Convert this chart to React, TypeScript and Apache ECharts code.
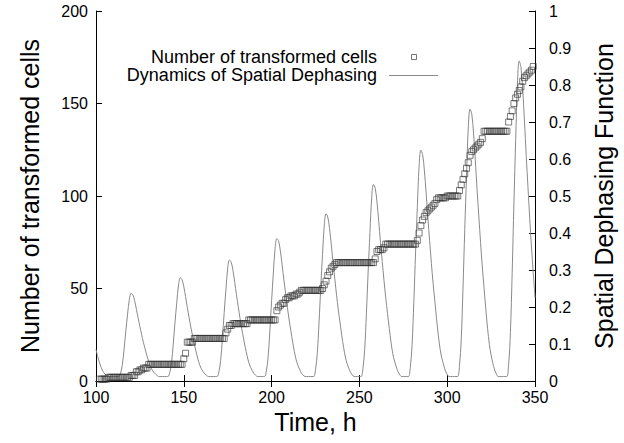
import React, { useEffect, useRef } from "react";
import * as echarts from "echarts";

const FONT = "Liberation Sans, Arial, Helvetica, sans-serif";

// Time axis (hours)
const timeTicks = [100, 150, 200, 250, 300, 350];
const cellTicks = [0, 50, 100, 150, 200];

// Spatial dephasing function, sampled every hour from t = 100 h to t = 350 h
const dephasingStart = 100;
const dephasing = [
  0.085, 0.066, 0.049, 0.036, 0.026, 0.019, 0.015, 0.013, 0.012, 0.012,
  0.012, 0.012, 0.012, 0.012, 0.021, 0.044, 0.086, 0.136, 0.181, 0.221,
  0.237, 0.233, 0.217, 0.194, 0.170, 0.147, 0.125, 0.104, 0.086, 0.068,
  0.053, 0.039, 0.030, 0.023, 0.018, 0.014, 0.012, 0.012, 0.012, 0.012,
  0.012, 0.012, 0.023, 0.049, 0.100, 0.159, 0.212, 0.260, 0.279, 0.274,
  0.255, 0.228, 0.199, 0.172, 0.146, 0.122, 0.100, 0.079, 0.060, 0.044,
  0.033, 0.025, 0.019, 0.015, 0.012, 0.012, 0.012, 0.012, 0.012, 0.012,
  0.025, 0.056, 0.116, 0.185, 0.248, 0.305, 0.327, 0.321, 0.299, 0.267,
  0.233, 0.201, 0.170, 0.141, 0.116, 0.091, 0.069, 0.050, 0.037, 0.028,
  0.020, 0.015, 0.012, 0.012, 0.012, 0.012, 0.012, 0.027, 0.064, 0.135,
  0.217, 0.292, 0.359, 0.385, 0.378, 0.351, 0.314, 0.273, 0.236, 0.199,
  0.165, 0.135, 0.105, 0.079, 0.057, 0.042, 0.031, 0.021, 0.016, 0.012,
  0.012, 0.012, 0.012, 0.012, 0.012, 0.030, 0.074, 0.157, 0.254, 0.342,
  0.421, 0.452, 0.443, 0.412, 0.368, 0.320, 0.276, 0.232, 0.192, 0.157,
  0.122, 0.091, 0.065, 0.047, 0.034, 0.023, 0.016, 0.012, 0.012, 0.012,
  0.012, 0.012, 0.033, 0.085, 0.183, 0.297, 0.401, 0.495, 0.531, 0.521,
  0.484, 0.432, 0.375, 0.323, 0.272, 0.225, 0.183, 0.142, 0.105, 0.074,
  0.054, 0.038, 0.025, 0.017, 0.012, 0.012, 0.012, 0.012, 0.012, 0.037,
  0.098, 0.214, 0.349, 0.471, 0.581, 0.624, 0.612, 0.569, 0.508, 0.440,
  0.379, 0.318, 0.263, 0.214, 0.165, 0.122, 0.085, 0.061, 0.043, 0.027,
  0.018, 0.012, 0.012, 0.012, 0.012, 0.012, 0.012, 0.041, 0.113, 0.251,
  0.410, 0.554, 0.684, 0.735, 0.721, 0.670, 0.598, 0.518, 0.446, 0.374,
  0.308, 0.251, 0.193, 0.142, 0.099, 0.070, 0.048, 0.030, 0.019, 0.012,
  0.012, 0.012, 0.012, 0.012, 0.012, 0.046, 0.131, 0.293, 0.481, 0.652,
  0.805, 0.865, 0.848, 0.788, 0.703, 0.609, 0.524, 0.439, 0.362, 0.293,
  0.225,
];

// Number of transformed cells, one reading per hour from t = 102 h to t = 349 h
const cellsStart = 102;
const cellCounts = [
  1, 1, 1, 1, 1, 2, 2, 2,
  2, 2, 2, 2, 2, 2, 2, 2, 2, 2,
  3, 3, 3, 5, 5, 6, 6, 7, 7, 7,
  9, 9, 9, 9, 9, 9, 9, 9, 9, 9,
  9, 9, 9, 9, 9, 9, 9, 9, 9, 9,
  12, 15, 21, 21, 21, 21, 23, 23, 23, 23,
  23, 23, 23, 23, 23, 23, 23, 23, 23, 23,
  23, 23, 23, 23, 26, 28, 30, 30, 31, 31,
  31, 31, 31, 31, 31, 31, 31, 33, 33, 33,
  33, 33, 33, 33, 33, 33, 33, 33, 33, 33,
  33, 33, 33, 38, 40, 41, 42, 42, 44, 45,
  45, 46, 46, 46, 47, 47, 48, 49, 49, 49,
  49, 49, 49, 49, 49, 49, 49, 49, 49, 50,
  52, 54, 57, 59, 61, 62, 63, 64, 64, 64,
  64, 64, 64, 64, 64, 64, 64, 64, 64, 64,
  64, 64, 64, 64, 64, 64, 64, 64, 64, 66,
  70, 71, 71, 71, 72, 74, 74, 74, 74, 74,
  74, 74, 74, 74, 74, 74, 74, 74, 74, 74,
  74, 74, 74, 76, 80, 84, 87, 89, 91, 92,
  93, 94, 95, 96, 98, 99, 99, 99, 99, 99,
  100, 100, 100, 100, 100, 100, 100, 103, 106, 109,
  112, 115, 118, 122, 124, 125, 126, 127, 128, 129,
  131, 135, 135, 135, 135, 135, 135, 135, 135, 135,
  135, 135, 135, 135, 135, 140, 143, 146, 150, 153,
  155, 157, 159, 162, 164, 165, 166, 167, 168, 170,
];

const legendCells = "Number of transformed cells";
const legendDephasing = "Dynamics of Spatial Dephasing";

export default function App() {
  const ref = useRef<HTMLDivElement>(null);

  useEffect(() => {
    if (!ref.current) return;
    const chart = echarts.init(ref.current, null, { renderer: "svg" });

    const lineData = dephasing.map((v, i) => [dephasingStart + i, v]);
    const cellData = cellCounts.map((v, i) => [cellsStart + i, v]);

    const axisLine = { show: true, lineStyle: { color: "#000", width: 1 } };
    const axisTick = { show: true, inside: true, length: 6, lineStyle: { color: "#000", width: 1 } };

    const option: any = {
      animation: false,
      backgroundColor: "#fff",
      textStyle: { fontFamily: FONT },
      grid: { left: 96, right: 85, top: 11, bottom: 62, containLabel: false },
      xAxis: [
        {
          type: "value",
          position: "bottom",
          min: timeTicks[0],
          max: timeTicks[timeTicks.length - 1],
          interval: 50,
          name: "Time, h",
          nameLocation: "middle",
          nameGap: 28,
          nameTextStyle: { fontSize: 25, color: "#000", fontFamily: FONT },
          axisLine,
          axisTick,
          axisLabel: { fontSize: 16, color: "#000", margin: 8, fontFamily: FONT },
          splitLine: { show: false },
        },
        {
          type: "value",
          position: "top",
          min: timeTicks[0],
          max: timeTicks[timeTicks.length - 1],
          interval: 50,
          axisLine,
          axisTick,
          axisLabel: { show: false },
          splitLine: { show: false },
        },
      ],
      yAxis: [
        {
          type: "value",
          position: "left",
          min: cellTicks[0],
          max: cellTicks[cellTicks.length - 1],
          interval: 50,
          name: "Number of transformed cells",
          nameLocation: "middle",
          nameGap: 54,
          nameTextStyle: { fontSize: 25, color: "#000", fontFamily: FONT },
          axisLine,
          axisTick,
          axisLabel: { fontSize: 16, color: "#000", margin: 8, fontFamily: FONT },
          splitLine: { show: false },
        },
        {
          type: "value",
          position: "right",
          min: 0,
          max: 1,
          interval: 0.1,
          name: "Spatial Dephasing Function",
          nameLocation: "middle",
          nameGap: 56,
          nameTextStyle: { fontSize: 25, color: "#000", fontFamily: FONT },
          axisLine,
          axisTick,
          axisLabel: {
            fontSize: 16,
            color: "#000",
            margin: 14,
            fontFamily: FONT,
            formatter: (v: number) => String(Math.round(v * 10) / 10),
          },
          splitLine: { show: false },
        },
      ],
      series: [
        {
          name: legendDephasing,
          type: "line",
          xAxisIndex: 0,
          yAxisIndex: 1,
          data: lineData,
          smooth: 0.35,
          showSymbol: false,
          symbol: "none",
          lineStyle: { color: "#8a8a8a", width: 1 },
          z: 2,
        },
        {
          name: legendCells,
          type: "scatter",
          xAxisIndex: 0,
          yAxisIndex: 0,
          data: cellData,
          symbol: "rect",
          symbolSize: 6,
          itemStyle: { color: "rgba(255,255,255,0)", borderColor: "#333", borderWidth: 0.8 },
          z: 3,
        },
      ],
      graphic: [
        {
          type: "text",
          x: 377,
          y: 57,
          style: {
            text: legendCells,
            align: "right",
            verticalAlign: "middle",
            fontSize: 18,
            fontFamily: FONT,
            fill: "#000",
          },
        },
        {
          type: "rect",
          shape: { x: 411.5, y: 54.5, width: 5, height: 5 },
          style: { fill: "none", stroke: "#555", lineWidth: 0.8 },
        },
        {
          type: "text",
          x: 377,
          y: 75,
          style: {
            text: legendDephasing,
            align: "right",
            verticalAlign: "middle",
            fontSize: 18,
            fontFamily: FONT,
            fill: "#000",
          },
        },
        {
          type: "line",
          shape: { x1: 389, y1: 75.5, x2: 438, y2: 75.5 },
          style: { stroke: "#8a8a8a", lineWidth: 1 },
        },
      ],
    };

    chart.setOption(option);
    return () => chart.dispose();
  }, []);

  return (
    <div
      ref={ref}
      style={{ position: "fixed", left: 0, top: 0, width: 624, height: 443 }}
    />
  );
}
